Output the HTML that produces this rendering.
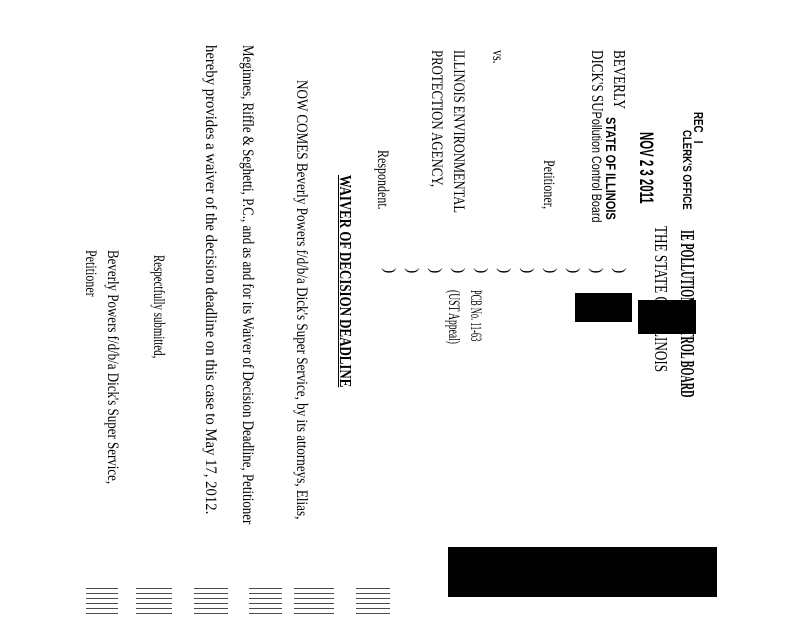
<!DOCTYPE html>
<html><head><meta charset="utf-8"><style>
body{margin:0;background:#fff;width:800px;height:618px;overflow:hidden;position:relative}
.l{position:absolute;white-space:nowrap;transform-origin:0 0;font-family:"Liberation Serif",serif;line-height:1;color:#000;font-size:16px}
.b{font-weight:bold}
.s{font-family:"Liberation Sans",sans-serif;font-weight:bold}
.blk{position:absolute;background:#000}
.sm{position:absolute;background:repeating-linear-gradient(180deg,#000 0 1px,#fff 1px 5px);opacity:.7}
</style></head><body>
<div class="l b" style="left:697px;top:230px;font-size:20px;transform:rotate(90deg) scaleX(.51)">IE POLLUTION CONTROL BOARD</div>
<div class="l" style="left:670px;top:226px;font-size:18px;transform:rotate(90deg) scaleX(.73)">THE STATE OF ILLINOIS</div>
<div class="l s" style="left:705px;top:112px;font-size:13px;transform:rotate(90deg) scaleX(.75)">REC &nbsp; I</div>
<div class="l s" style="left:693px;top:130px;font-size:12px;transform:rotate(90deg) scaleX(.8)">CLERK'S OFFICE</div>
<div class="l s" style="left:655px;top:132px;font-size:19px;transform:rotate(90deg) scaleX(.6)">NOV 2 3 2011</div>
<div class="l" style="left:628px;top:50px;font-size:17px;transform:rotate(90deg) scaleX(.77)">BEVERLY</div>
<div class="l s" style="left:618px;top:117px;font-size:14px;transform:rotate(90deg) scaleX(.79)">STATE OF ILLINOIS</div>
<div class="l" style="left:606px;top:50px;font-size:17px;transform:rotate(90deg) scaleX(.77)">DICK'S SU<span style="font-family:'Liberation Sans',sans-serif;font-size:14px">Pollution Control Board</span></div>
<div class="l" style="left:556px;top:160px;transform:rotate(90deg) scaleX(.75)">Petitioner,</div>
<div class="l" style="left:505px;top:50px;transform:rotate(90deg) scaleX(.75)">vs.</div>
<div class="l" style="left:466px;top:50px;transform:rotate(90deg) scaleX(.78)">ILLINOIS ENVIRONMENTAL</div>
<div class="l" style="left:444px;top:50px;transform:rotate(90deg) scaleX(.8)">PROTECTION AGENCY,</div>
<div class="l" style="left:390px;top:150px;transform:rotate(90deg) scaleX(.75)">Respondent.</div>
<div class="l" style="left:483px;top:290px;transform:rotate(90deg) scaleX(.52)">PCB No. 11-63</div>
<div class="l" style="left:461px;top:290px;transform:rotate(90deg) scaleX(.6)">(UST Appeal)</div>
<div style="position:absolute;left:0;top:0">
<div class="l" style="left:627px;top:268px;transform:rotate(90deg)">)</div>
<div class="l" style="left:604px;top:268px;transform:rotate(90deg)">)</div>
<div class="l" style="left:581px;top:268px;transform:rotate(90deg)">)</div>
<div class="l" style="left:558px;top:268px;transform:rotate(90deg)">)</div>
<div class="l" style="left:535px;top:268px;transform:rotate(90deg)">)</div>
<div class="l" style="left:512px;top:268px;transform:rotate(90deg)">)</div>
<div class="l" style="left:489px;top:268px;transform:rotate(90deg)">)</div>
<div class="l" style="left:466px;top:268px;transform:rotate(90deg)">)</div>
<div class="l" style="left:443px;top:268px;transform:rotate(90deg)">)</div>
<div class="l" style="left:420px;top:268px;transform:rotate(90deg)">)</div>
<div class="l" style="left:397px;top:268px;transform:rotate(90deg)">)</div>
</div>
<div class="l b" style="left:354px;top:175px;font-size:17px;text-decoration:underline;transform:rotate(90deg) scaleX(.76)">WAIVER OF DECISION DEADLINE</div>
<div class="l" style="left:309px;top:80px;transform:rotate(90deg) scaleX(.82)">NOW COMES Beverly Powers f/d/b/a Dick's Super Service, by its attorneys, Elias,</div>
<div class="l" style="left:255px;top:45px;transform:rotate(90deg) scaleX(.81)">Meginnes, Riffle &amp; Seghetti, P.C., and as and for its Waiver of Decision Deadline, Petitioner</div>
<div class="l" style="left:218px;top:45px;transform:rotate(90deg) scaleX(.92)">hereby provides a waiver of the decision deadline on this case to May 17, 2012.</div>
<div class="l" style="left:166px;top:255px;transform:rotate(90deg) scaleX(.68)">Respectfully submitted,</div>
<div class="l" style="left:120px;top:250px;transform:rotate(90deg) scaleX(.81)">Beverly Powers f/d/b/a Dick's Super Service,</div>
<div class="l" style="left:98px;top:250px;transform:rotate(90deg) scaleX(.75)">Petitioner</div>
<div class="blk" style="left:575px;top:293px;width:57px;height:29px"></div>
<div class="blk" style="left:638px;top:300px;width:58px;height:34px"></div>
<div class="blk" style="left:448px;top:547px;width:269px;height:50px"></div>
<div class="sm" style="left:86px;top:588px;width:32px;height:28px"></div>
<div class="sm" style="left:136px;top:588px;width:36px;height:30px"></div>
<div class="sm" style="left:194px;top:588px;width:34px;height:30px"></div>
<div class="sm" style="left:249px;top:588px;width:33px;height:30px"></div>
<div class="sm" style="left:294px;top:588px;width:40px;height:30px"></div>
<div class="sm" style="left:356px;top:588px;width:34px;height:30px"></div>
</body></html>
